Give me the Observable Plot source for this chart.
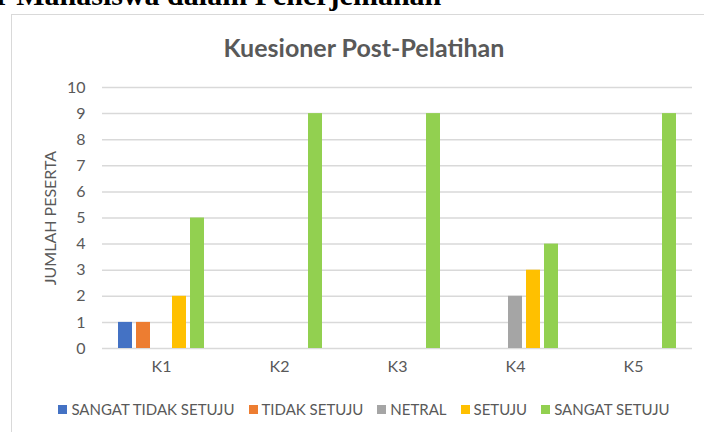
<!DOCTYPE html>
<html>
<head>
<meta charset="utf-8">
<script src="https://cdn.jsdelivr.net/npm/d3@7"></script>
<script src="https://cdn.jsdelivr.net/npm/@observablehq/plot@0.6"></script>
<style>
  html, body { margin: 0; padding: 0; background: #fff; width: 704px; height: 432px; overflow: hidden; }
  #page { position: relative; width: 704px; height: 432px; overflow: hidden; font-family: Lato, "Open Sans", sans-serif; color: #595959; }
  #doc-heading { position: absolute; left: -4px; top: -20px; font-family: "Liberation Serif", serif; font-weight: bold; font-size: 30px; line-height: 1; color: #000; white-space: nowrap; }
  #frame { position: absolute; left: 11px; top: 14px; width: 800px; height: 500px; border-left: 1.5px solid #d9d9d9; border-top: 1.5px solid #d9d9d9; }
  #title { position: absolute; left: 0; top: 32px; width: 728px; text-align: center; font-size: 25px; font-weight: bold; color: #595959; line-height: 1.2; }
  #chart { position: absolute; left: 0; top: 70px; }
  #legend { position: absolute; left: 0; top: 400px; width: 728px; display: flex; justify-content: center; gap: 14px; font-size: 15px; line-height: 18px; }
  .item { display: flex; align-items: center; gap: 4px; }
  .sw { width: 9px; height: 9px; display: inline-block; }
</style>
</head>
<body>
<div id="page">
  <div id="doc-heading">r Mahasiswa dalam Penerjemahan</div>
  <div id="frame"></div>
  <div id="title">Kuesioner Post-Pelatihan</div>
  <div id="chart"></div>
  <div id="legend"></div>
</div>
<script>
const categories = ["K1", "K2", "K3", "K4", "K5"];
const seriesNames = ["SANGAT TIDAK SETUJU", "TIDAK SETUJU", "NETRAL", "SETUJU", "SANGAT SETUJU"];
const seriesColors = ["#4472C4", "#ED7D31", "#A5A5A5", "#FFC000", "#92D050"];
const sangatTidakSetuju = [1, 0, 0, 0, 0];
const tidakSetuju       = [1, 0, 0, 0, 0];
const netral            = [0, 0, 0, 2, 0];
const setuju            = [2, 0, 0, 3, 0];
const sangatSetuju      = [5, 9, 9, 4, 9];
const yTicks = [0, 1, 2, 3, 4, 5, 6, 7, 8, 9, 10];

const seriesValues = [sangatTidakSetuju, tidakSetuju, netral, setuju, sangatSetuju];
const data = [];
categories.forEach((c, ci) => {
  seriesNames.forEach((s, si) => {
    data.push({category: c, series: s, value: seriesValues[si][ci]});
  });
});

const chart = Plot.plot({
  width: 704,
  height: 310,
  marginLeft: 100,
  marginRight: 11,
  marginTop: 17,
  marginBottom: 32,
  style: {fontFamily: "Lato, 'Open Sans', sans-serif", fontSize: "16px", color: "#595959", background: "transparent"},
  fx: {domain: categories, padding: 0, label: null, tickSize: 0, tickPadding: 12, axis: "bottom"},
  x: {domain: seriesNames, axis: null, paddingInner: 0.25, paddingOuter: 0.75},
  y: {domain: [0, 10], ticks: yTicks, tickSize: 0, tickPadding: 17, label: "JUMLAH PESERTA", labelAnchor: "center", labelArrow: "none", labelOffset: 58},
  color: {domain: seriesNames, range: seriesColors},
  marks: [
    Plot.ruleY(yTicks, {stroke: "#d9d9d9", strokeWidth: 1.5}),
    Plot.barY(data.filter(d => d.value > 0), {fx: "category", x: "series", y: "value", fill: "series"})
  ]
});
document.getElementById("chart").appendChild(chart);

const legend = document.getElementById("legend");
seriesNames.forEach((s, i) => {
  const item = document.createElement("div");
  item.className = "item";
  const sw = document.createElement("span");
  sw.className = "sw";
  sw.style.background = seriesColors[i];
  const t = document.createElement("span");
  t.textContent = s;
  item.appendChild(sw);
  item.appendChild(t);
  legend.appendChild(item);
});
</script>
</body>
</html>
